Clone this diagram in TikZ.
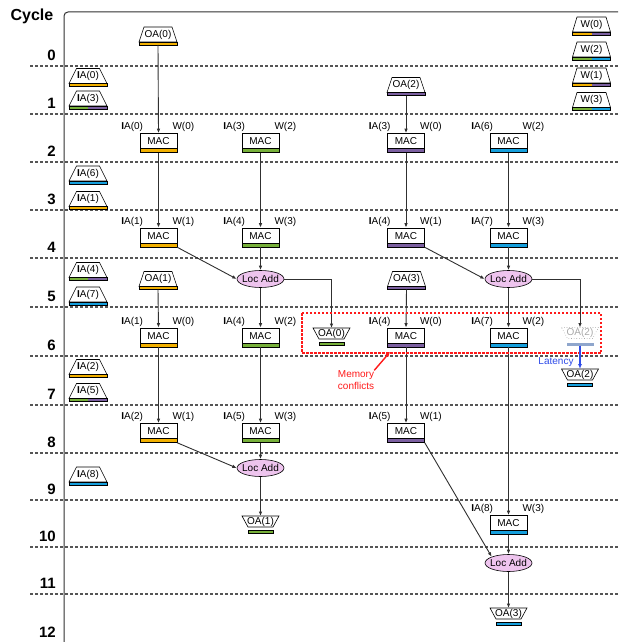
\documentclass[tikz,border=0pt]{standalone}
\usepackage{fontspec}
\setmainfont{Liberation Sans}
\usetikzlibrary{arrows.meta,shapes.geometric}

\definecolor{barOrange}{HTML}{F2B000}
\definecolor{barGreen}{HTML}{77B03A}
\definecolor{barPurple}{HTML}{7B5FA0}
\definecolor{barBlue}{HTML}{159FDD}
\definecolor{locPink}{HTML}{EEC4EE}
\definecolor{fadeBlue}{HTML}{8FA6CC}
\definecolor{fadeGrey}{HTML}{A8A8A8}
\definecolor{lineGrey}{HTML}{303030}
\definecolor{sepGrey}{HTML}{555555}
\definecolor{latBlue}{HTML}{2E4BE8}
\definecolor{memRed}{HTML}{FF1A1A}

\tikzset{
  txt/.style={font=\fontsize{10}{12}\selectfont, inner sep=0pt},
  flow/.style={draw=lineGrey, line width=0.9pt, -{Latex[length=4.5pt,width=3.5pt]}},
  cycsep/.style={draw=sepGrey, line width=1.2pt, dash pattern=on 3pt off 2pt},
  frame/.style={draw=lineGrey, line width=1pt, rounded corners=4pt},
  cycnum/.style={font=\bfseries\fontsize{15}{17}\selectfont, inner sep=0pt, anchor=east},
  trapline/.style={draw=black, line width=0.6pt, fill=white},
  barline/.style={draw=black, line width=0.4pt},
  hold/.style={inner sep=0pt, outer sep=0pt, draw=none},
  macbox/.style={draw, line width=0.6pt, fill=white, minimum width=37pt,
    minimum height=19pt, inner sep=0pt, text height=7.2pt, text depth=4pt,
    font=\fontsize{10}{12}\selectfont,
    path picture={
      \fill[#1] (path picture bounding box.south west) rectangle
        ([yshift=4pt]path picture bounding box.south east);
      \draw[line width=0.5pt] ([yshift=4pt]path picture bounding box.south west)
        -- ([yshift=4pt]path picture bounding box.south east);}},
  locadd/.style={ellipse, draw, line width=0.6pt, fill=locPink, minimum width=47pt,
    minimum height=17pt, inner xsep=-2.5pt, inner ysep=0pt,
    font=\fontsize{10}{12}\selectfont},
}

% MAC unit with its IA / W operand labels
\newcommand\MacUnit[6]{%
  \node[macbox=#4] (#1) at (#2,#3) {MAC};
  \node[txt, anchor=east] (#1-ia) at ([xshift=3.5pt,yshift=6pt]#1.north west) {\textbf{I}A(#5)};
  \node[txt, anchor=west] (#1-w) at ([xshift=-5pt,yshift=6pt]#1.north east) {W(#6)};
}

% buffer read: trapezoid, narrow side up, with a two-part bank bar below
% #1 name, #2 x, #3 y, #4 text, #5 left bank, #6 right bank, #7 half top width
\newcommand\InTrap[7]{%
  \begin{scope}[shift={(#2,#3)}]
    \draw[trapline] (-#7,-7.5) -- (#7,-7.5) -- (19,7.5) -- (-19,7.5) -- cycle;
    \fill[#5] (-19,7.5) rectangle (0,10.5);
    \fill[#6] (0,7.5) rectangle (19,10.5);
    \draw[barline] (-19,7.5) rectangle (19,10.5);
    \node[hold, minimum width=38pt, minimum height=18pt] (#1) at (0,1.5) {};
    \node[txt] (#1-t) at (0,0.4) {#4};
  \end{scope}}

% buffer write: trapezoid, wide side up, with a separate bank bar below
% #1 name, #2 x, #3 y, #4 text, #5 bank colour
\newcommand\OutTrap[5]{%
  \begin{scope}[shift={(#2,#3)}]
    \draw[trapline] (-18.5,-5.5) -- (18.5,-5.5) -- (12.5,5.5) -- (-12.5,5.5) -- cycle;
    \fill[#5] (-12.5,9) rectangle (12.5,12);
    \draw[barline] (-12.5,9) rectangle (12.5,12);
    \node[hold, minimum width=37pt, minimum height=11pt] (#1) at (0,0) {};
    \node[txt] (#1-t) at (0,0) {#4};
  \end{scope}}

\begin{document}
\begin{tikzpicture}[x={(1pt,0pt)}, y={(0pt,-1pt)}]
\useasboundingbox (0,0) rectangle (618,642);

% cycle separators and frame
\foreach \yy in {66,114,162,210,258,307,356,405,453,500,547,594}
  \draw[cycsep] (30,\yy) -- (618,\yy);
\draw[frame] (64,642) -- (64,12) -- (618,12);

\node[font=\bfseries\fontsize{16}{18}\selectfont, inner sep=0pt] (cyctitle) at (32,16) {Cycle};
\foreach \k/\yy in {0/55.5,1/103.5,2/151.5,3/199.5,4/247.5,5/296.5,6/345.5,
                    7/394.5,8/442.5,9/489.5,10/536.5,11/583.5,12/632}
  \node[cycnum] (cyc\k) at (56,\yy) {\k};

% input activation reads
\InTrap{ia0}{88}{76}{\textbf{I}A(0)}{barOrange}{barOrange}{11.5}
\InTrap{ia3}{88}{98.5}{\textbf{I}A(3)}{barGreen}{barPurple}{11.5}
\InTrap{ia6}{88}{173.5}{\textbf{I}A(6)}{barBlue}{barBlue}{11.5}
\InTrap{ia1}{88}{199}{\textbf{I}A(1)}{barOrange}{barOrange}{11.5}
\InTrap{ia4}{88}{270}{\textbf{I}A(4)}{barGreen}{barPurple}{11.5}
\InTrap{ia7}{88}{294.5}{\textbf{I}A(7)}{barBlue}{barBlue}{11.5}
\InTrap{ia2}{88}{367}{\textbf{I}A(2)}{barOrange}{barOrange}{11.5}
\InTrap{ia5}{88}{391}{\textbf{I}A(5)}{barGreen}{barPurple}{11.5}
\InTrap{ia8}{88}{474.5}{\textbf{I}A(8)}{barBlue}{barBlue}{11.5}

% weight reads
\InTrap{w0}{591.5}{24.5}{W(0)}{barOrange}{barPurple}{14.5}
\InTrap{w2}{591.5}{49.5}{W(2)}{barGreen}{barBlue}{14.5}
\InTrap{w1}{591.5}{75.5}{W(1)}{barOrange}{barPurple}{14.5}
\InTrap{w3}{591.5}{100}{W(3)}{barGreen}{barBlue}{14.5}

% partial output reads
\InTrap{oa0in}{158}{34.5}{OA(0)}{barOrange}{barOrange}{14}
\InTrap{oa2in}{406}{85}{OA(2)}{barPurple}{barPurple}{14}
\InTrap{oa1in}{158}{279}{OA(1)}{barOrange}{barOrange}{14}
\InTrap{oa3in}{406.5}{279}{OA(3)}{barPurple}{barPurple}{14}

% MAC units
\MacUnit{m21}{158.5}{143}{barOrange}{0}{0}
\MacUnit{m22}{260.5}{143}{barGreen}{3}{2}
\MacUnit{m23}{406}{143}{barPurple}{3}{0}
\MacUnit{m24}{508.5}{143}{barBlue}{6}{2}
\MacUnit{m41}{158.5}{237.5}{barOrange}{1}{1}
\MacUnit{m42}{260.5}{237.5}{barGreen}{4}{3}
\MacUnit{m43}{406}{237.5}{barPurple}{4}{1}
\MacUnit{m44}{508.5}{237.5}{barBlue}{7}{3}
\MacUnit{m61}{158.5}{337.5}{barOrange}{1}{0}
\MacUnit{m62}{260.5}{337.5}{barGreen}{4}{2}
\MacUnit{m63}{406}{337.5}{barPurple}{4}{0}
\MacUnit{m64}{508.5}{337.5}{barBlue}{7}{2}
\MacUnit{m81}{158.5}{433}{barOrange}{2}{1}
\MacUnit{m82}{260.5}{433}{barGreen}{5}{3}
\MacUnit{m83}{406}{433}{barPurple}{5}{1}
\MacUnit{m104}{508.5}{525}{barBlue}{8}{3}

% local adders
\node[locadd] (la5a) at (260.5,279) {Loc Add};
\node[locadd] (la5b) at (508.5,279) {Loc Add};
\node[locadd] (la9) at (260.5,468) {Loc Add};
\node[locadd] (la11) at (508.5,563) {Loc Add};

% output writes
\OutTrap{oa0out}{331.5}{333.5}{OA(0)}{barGreen}
\OutTrap{oa1out}{260.5}{521.5}{OA(1)}{barGreen}
\OutTrap{oa3out}{508.5}{613.5}{OA(3)}{barBlue}
\OutTrap{oa2out}{580}{374.5}{OA(2)}{barBlue}

% delayed write slot
\begin{scope}[shift={(580,333)}]
  \draw[draw=fadeGrey, line width=0.6pt, dotted] (-18.5,-5.5) -- (18.5,-5.5) -- (12.5,5.5) -- (-12.5,5.5) -- cycle;
  \fill[fadeBlue] (-13.5,9.5) rectangle (13.5,12.5);
  \node[hold, minimum width=37pt, minimum height=11pt] (oa2fade) at (0,0) {};
  \node[txt, text=fadeGrey] (oa2fade-t) at (0,0) {OA(2)};
  \coordinate (oa2fade-bar) at (0,12.5);
\end{scope}

% data flow
\draw[flow] (oa0in.south) -- (m21.north);
\draw[flow] (m21.south) -- (m41.north);
\draw[flow] (m41.south east) -- (la5a.west);
\draw[flow] (m22.south) -- (m42.north);
\draw[flow] (m42.south) -- (la5a.north);
\draw[flow] (la5a.south) -- (m62.north);
\draw[flow] (la5a.east) -| (oa0out.north);
\draw[flow] (oa1in.south) -- (m61.north);
\draw[flow] (m61.south) -- (m81.north);
\draw[flow] (m81.south east) -- (la9.west);
\draw[flow] (m62.south) -- (m82.north);
\draw[flow] (m82.south) -- (la9.north);
\draw[flow] (la9.south) -- (oa1out.north);
\draw[flow] (oa2in.south) -- (m23.north);
\draw[flow] (m23.south) -- (m43.north);
\draw[flow] (m43.south east) -- (la5b.west);
\draw[flow] (m24.south) -- (m44.north);
\draw[flow] (m44.south) -- (la5b.north);
\draw[flow] (la5b.south) -- (m64.north);
\draw[flow] (la5b.east) -| (oa2fade.north);
\draw[flow] (oa3in.south) -- (m63.north);
\draw[flow] (m63.south) -- (m83.north);
\draw[flow] (m83.south east) -- (la11.north west);
\draw[flow] (m64.south) -- (m104.north);
\draw[flow] (m104.south) -- (la11.north);
\draw[flow] (la11.south) -- (oa3out.north);

% memory conflict window
\draw[draw=memRed, line width=1.2pt, dash pattern=on 2.5pt off 1.5pt] (302,313) rectangle (601,353);
\node[txt, text=memRed, align=center] (memtxt) at (356,380) {Memory\\conflicts};
\draw[draw=memRed, fill=memRed, line width=1.4pt, -{Latex[length=5pt,width=4pt]}]
  (memtxt.north east) -- ([xshift=3pt,yshift=-4.5pt]m63.south west);

% write latency
\node[txt, text=latBlue] (lattxt) at (556,362) {Latency};
\draw[draw=latBlue, fill=latBlue, line width=1.5pt, -{Latex[length=5pt,width=4pt]}]
  (oa2fade-bar) -- (oa2out.north);
\end{tikzpicture}
\end{document}
